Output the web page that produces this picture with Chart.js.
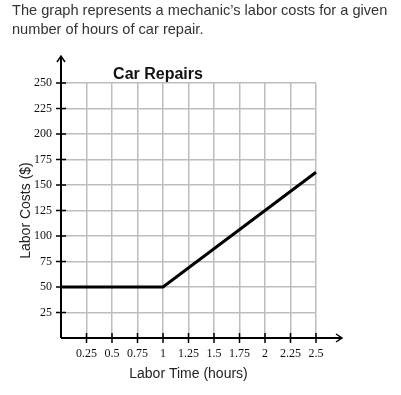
<!DOCTYPE html>
<html>
<head>
<meta charset="utf-8">
<script src="https://cdn.jsdelivr.net/npm/chart.js@4"></script>
<style>
    body { margin: 0; background: #fff; }
    .question {
        position: absolute; left: 12px; top: 1px; margin: 0; width: 389px;
        font: 14.6px "Liberation Sans", Arial, sans-serif; line-height: 19px; color: #333;
    }
    #wrap { position: absolute; left: 0; top: 0; width: 401px; height: 395px; }
</style>
</head>
<body>
<div id="wrap"><canvas id="repairs-chart" width="401" height="395"></canvas></div>
<p class="question">The graph represents a mechanic’s labor costs for a given number of hours of car repair.</p>
<script>
// Labor time (hours) and cost ($) at the corners of the line
const hours = [0, 1, 2.5];
const costs = [50, 50, 162.5];

// Tick labels on each axis
const xTicks = [0.25, 0.5, 0.75, 1, 1.25, 1.5, 1.75, 2, 2.25, 2.5];
const yTicks = [25, 50, 75, 100, 125, 150, 175, 200, 225, 250];

// Axis lines with arrows and the small crossing tick marks
const axesPlugin = {
    id: 'axesArrows',
    afterDatasetsDraw(chart) {
        const { ctx, chartArea, scales } = chart;
        const x0 = scales.x.getPixelForValue(0);
        const y0 = scales.y.getPixelForValue(0);
        ctx.save();
        ctx.strokeStyle = '#000';
        ctx.lineWidth = 2;
        ctx.beginPath();
        ctx.moveTo(x0, y0);
        ctx.lineTo(x0, chartArea.top - 27);
        ctx.moveTo(x0, y0);
        ctx.lineTo(chartArea.right + 26, y0);
        ctx.stroke();

        // arrow heads
        ctx.lineWidth = 1.5;
        ctx.beginPath();
        const ty = chartArea.top - 27;
        ctx.moveTo(x0 - 4, ty + 6);
        ctx.lineTo(x0, ty);
        ctx.lineTo(x0 + 4, ty + 6);
        const tx = chartArea.right + 26;
        ctx.moveTo(tx - 6, y0 - 4);
        ctx.lineTo(tx, y0);
        ctx.lineTo(tx - 6, y0 + 4);
        ctx.stroke();

        // tick marks crossing the axes
        ctx.beginPath();
        xTicks.forEach(v => {
            const px = scales.x.getPixelForValue(v);
            ctx.moveTo(px, y0 - 5);
            ctx.lineTo(px, y0 + 5);
        });
        yTicks.forEach(v => {
            const py = scales.y.getPixelForValue(v);
            ctx.moveTo(x0 - 5, py);
            ctx.lineTo(x0 + 5, py);
        });
        ctx.stroke();
        ctx.restore();
    }
};

document.addEventListener('DOMContentLoaded', function() {
    const ctx = document.getElementById('repairs-chart').getContext('2d');
    new Chart(ctx, {
        type: 'line',
        data: {
            datasets: [{
                data: hours.map((h, i) => ({ x: h, y: costs[i] })),
                borderColor: '#000',
                borderWidth: 3,
                pointRadius: 0,
                tension: 0,
                clip: false
            }]
        },
        options: {
            responsive: false,
            animation: false,
            devicePixelRatio: 1,
            layout: { padding: { left: 0, right: 85, top: 0, bottom: 0 } },
            plugins: {
                legend: { display: false },
                tooltip: { enabled: false },
                title: {
                    display: true,
                    text: 'Car Repairs',
                    color: '#111',
                    font: { family: '"Liberation Sans", Arial, sans-serif', size: 16, weight: 'bold', lineHeight: 1 },
                    padding: { top: 67, bottom: 0 }
                }
            },
            scales: {
                x: {
                    type: 'linear',
                    min: 0,
                    max: 2.5,
                    afterBuildTicks: scale => { scale.ticks = xTicks.map(v => ({ value: v })); },
                    afterFit: scale => { scale.height = 57; },
                    ticks: {
                        autoSkip: false,
                        maxRotation: 0,
                        padding: 9,
                        color: '#111',
                        font: { family: '"Liberation Serif", "Times New Roman", serif', size: 12 },
                        callback: value => String(value)
                    },
                    grid: { color: '#bdbdbd', lineWidth: 1.5, drawTicks: false },
                    border: { display: false },
                    title: {
                        display: true,
                        text: 'Labor Time (hours)',
                        color: '#222',
                        font: { family: '"Liberation Sans", Arial, sans-serif', size: 14 },
                        padding: { top: 0, bottom: 12.6 }
                    }
                },
                y: {
                    type: 'linear',
                    min: 0,
                    max: 250,
                    afterBuildTicks: scale => { scale.ticks = yTicks.map(v => ({ value: v })); },
                    afterFit: scale => { scale.width = 61; },
                    ticks: {
                        padding: 9,
                        color: '#111',
                        font: { family: '"Liberation Serif", "Times New Roman", serif', size: 12 },
                        callback: value => String(value)
                    },
                    grid: { color: '#bdbdbd', lineWidth: 1.5, drawTicks: false },
                    border: { display: false },
                    title: {
                        display: true,
                        text: 'Labor Costs ($)',
                        color: '#222',
                        font: { family: '"Liberation Sans", Arial, sans-serif', size: 14 },
                        padding: { top: 17.6, bottom: 0 }
                    }
                }
            }
        },
        plugins: [axesPlugin]
    });
});
</script>
</body>
</html>
